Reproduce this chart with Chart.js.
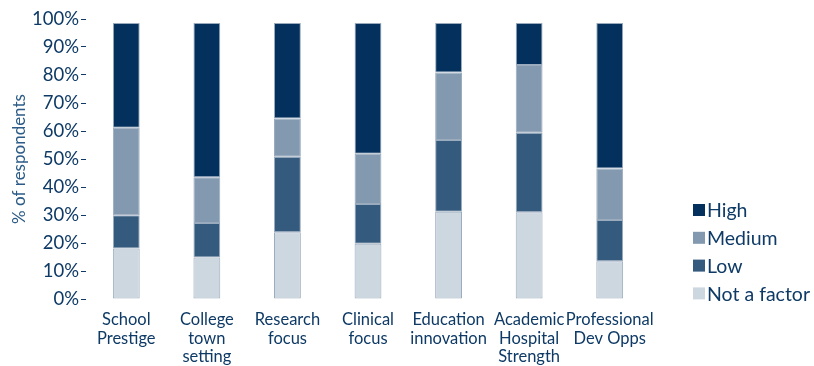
<!DOCTYPE html>
<html>
<head>
<meta charset="utf-8">
<script src="https://cdn.jsdelivr.net/npm/chart.js@4.4.1/dist/chart.umd.min.js"></script>
<style>
  html, body { margin: 0; padding: 0; background: #ffffff; }
  #wrap { width: 814px; height: 366px; }
</style>
</head>
<body>
<div id="wrap"><canvas id="c" width="814" height="366"></canvas></div>
<script>
// Survey factors (x axis), each label split into lines
const categories = [
  ["School", "Prestige"],
  ["College", "town", "setting"],
  ["Research", "focus"],
  ["Clinical", "focus"],
  ["Education", "innovation"],
  ["Academic", "Hospital", "Strength"],
  ["Professional", "Dev Opps"]
];

// Share of respondents (%) for each importance level
const notAFactor = [18.0, 14.8, 23.8, 19.7, 31.2, 31.0, 13.5];
const low        = [11.9, 12.3, 27.0, 14.2, 25.6, 28.4, 14.7];
const medium     = [31.3, 16.4, 13.7, 18.0, 24.1, 24.2, 18.4];
const high       = [37.4, 55.1, 34.1, 46.7, 17.7, 15.0, 52.0];

const yTicks = [0, 10, 20, 30, 40, 50, 60, 70, 80, 90, 100];

const TEXT = '#0e3a66';
const EDGE = '#9aabbe';
const FONT = 'Lato, "Open Sans", sans-serif';

Chart.defaults.font.family = FONT;
Chart.defaults.color = TEXT;

// Legend drawn to the right of the plot, top level first
const sideLegend = {
  id: 'sideLegend',
  afterDraw(chart) {
    const ctx = chart.ctx;
    const ds = chart.data.datasets.slice().reverse();
    ctx.save();
    ctx.font = '19.5px ' + FONT;
    ctx.textBaseline = 'middle';
    ctx.textAlign = 'left';
    ds.forEach((d, i) => {
      const cy = 210 + i * 27.8;
      ctx.fillStyle = d.backgroundColor;
      ctx.fillRect(693, cy - 6, 12, 12);
      ctx.fillStyle = TEXT;
      ctx.fillText(d.label, 707, cy + 1);
    });
    ctx.restore();
  }
};

const mk = (label, data, color) => ({
  label, data,
  backgroundColor: color,
  borderColor: EDGE,
  borderWidth: 1,
  borderSkipped: false,
  barPercentage: 0.333,
  categoryPercentage: 1.0
});

new Chart(document.getElementById('c'), {
  type: 'bar',
  data: {
    labels: categories,
    datasets: [
      mk('Not a factor', notAFactor, '#cdd7e0'),
      mk('Low', low, '#345a7e'),
      mk('Medium', medium, '#8299b0'),
      mk('High', high, '#03305c')
    ]
  },
  options: {
    responsive: false,
    animation: false,
    layout: { padding: { left: 9, right: 164, top: 19, bottom: 0 } },
    plugins: {
      legend: { display: false },
      tooltip: { enabled: false }
    },
    scales: {
      x: {
        stacked: true,
        grid: { display: false, drawTicks: false },
        border: { display: false },
        ticks: {
          color: TEXT,
          font: { size: 16.5, lineHeight: 1.1 },
          padding: 12,
          maxRotation: 0,
          autoSkip: false
        },
        afterFit(s) { s.height = 67; }
      },
      y: {
        stacked: true,
        min: 0,
        max: 100,
        afterBuildTicks(s) { s.ticks = yTicks.map(v => ({ value: v })); },
        grid: { drawOnChartArea: false, drawTicks: true, tickLength: 5, color: TEXT, lineWidth: 1 },
        border: { display: false },
        ticks: {
          color: TEXT,
          font: { size: 18.5 },
          padding: 2,
          callback: v => v + '%'
        },
        title: {
          display: true,
          text: '% of respondents',
          color: '#2b5b86',
          font: { size: 17 },
          padding: { top: 0, bottom: 0 }
        },
        afterFit(s) { s.width = 77; }
      }
    }
  },
  plugins: [sideLegend]
});
</script>
</body>
</html>
